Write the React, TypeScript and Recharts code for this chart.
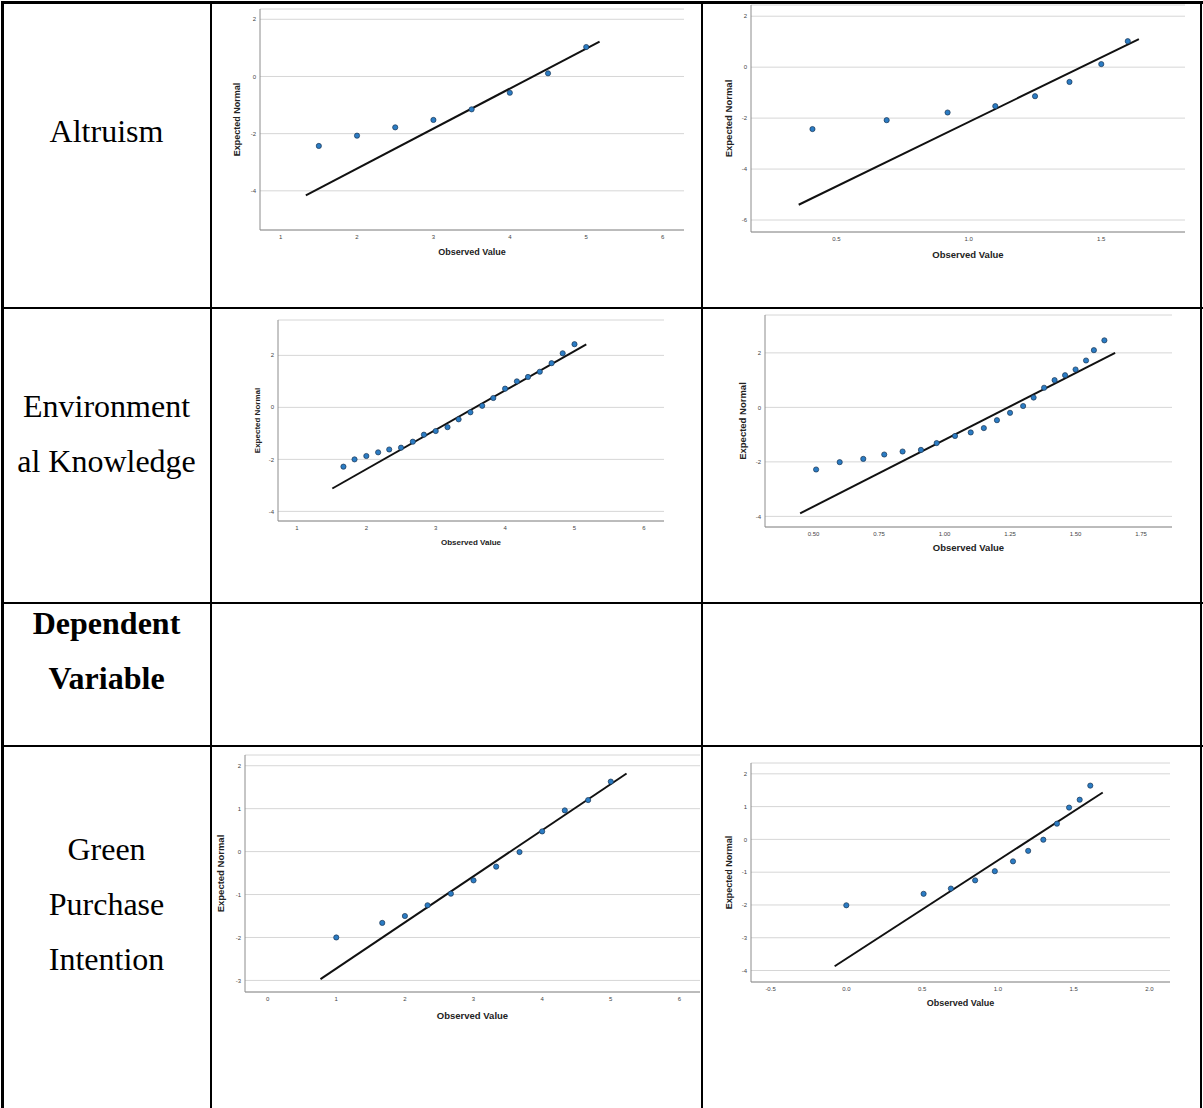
import { ScatterChart, Scatter, XAxis, YAxis, CartesianGrid, ReferenceLine } from "recharts";

// Altruism (raw)
const altObserved = [1.5, 2, 2.5, 3, 3.5, 4, 4.5, 5];
const altExpected = [-2.43, -2.07, -1.78, -1.52, -1.15, -0.57, 0.11, 1.03];
const altLineX = [1.33, 5.175];
const altLineY = [-4.16, 1.22];
const altXTicks = [1, 2, 3, 4, 5, 6];
const altYTicks = [2, 0, -2, -4];

// Altruism (log)
const altLogObserved = [0.41, 0.69, 0.92, 1.1, 1.25, 1.38, 1.5, 1.6];
const altLogExpected = [-2.43, -2.08, -1.78, -1.53, -1.14, -0.58, 0.12, 1.02];
const altLogLineX = [0.358, 1.642];
const altLogLineY = [-5.4, 1.1];
const altLogXTicks = [0.5, 1.0, 1.5];
const altLogYTicks = [2, 0, -2, -4, -6];

// Environmental Knowledge (raw)
const envObserved = [1.67, 1.83, 2.0, 2.17, 2.33, 2.5, 2.67, 2.83, 3.0, 3.17, 3.33, 3.5, 3.67, 3.83, 4.0, 4.17, 4.33, 4.5, 4.67, 4.83, 5.0];
const envExpected = [-2.28, -2.0, -1.87, -1.73, -1.62, -1.55, -1.32, -1.05, -0.91, -0.76, -0.46, -0.19, 0.06, 0.36, 0.72, 1.0, 1.17, 1.37, 1.7, 2.08, 2.43];
const envLineX = [1.51, 5.17];
const envLineY = [-3.12, 2.42];
const envXTicks = [1, 2, 3, 4, 5, 6];
const envYTicks = [2, 0, -2, -4];

// Environmental Knowledge (log)
const envLogObserved = [0.51, 0.6, 0.69, 0.77, 0.84, 0.91, 0.97, 1.04, 1.1, 1.15, 1.2, 1.25, 1.3, 1.34, 1.38, 1.42, 1.46, 1.5, 1.54, 1.57, 1.61];
const envLogExpected = [-2.28, -2.01, -1.89, -1.73, -1.62, -1.56, -1.31, -1.05, -0.92, -0.76, -0.47, -0.2, 0.05, 0.36, 0.72, 1.0, 1.18, 1.39, 1.72, 2.1, 2.46];
const envLogLineX = [0.449, 1.651];
const envLogLineY = [-3.89, 2.0];
const envLogXTicks = [0.5, 0.75, 1.0, 1.25, 1.5, 1.75];
const envLogYTicks = [2, 0, -2, -4];

// Green Purchase Intention (raw)
const gpiObserved = [1, 1.67, 2, 2.33, 2.67, 3, 3.33, 3.67, 4, 4.33, 4.67, 5];
const gpiExpected = [-2.0, -1.66, -1.5, -1.25, -0.98, -0.67, -0.35, -0.01, 0.47, 0.96, 1.2, 1.63];
const gpiLineX = [0.77, 5.23];
const gpiLineY = [-2.97, 1.82];
const gpiXTicks = [0, 1, 2, 3, 4, 5, 6];
const gpiYTicks = [2, 1, 0, -1, -2, -3];

// Green Purchase Intention (log)
const gpiLogObserved = [0, 0.51, 0.69, 0.85, 0.98, 1.1, 1.2, 1.3, 1.39, 1.47, 1.54, 1.61];
const gpiLogExpected = [-2.01, -1.66, -1.5, -1.25, -0.97, -0.67, -0.35, -0.01, 0.48, 0.97, 1.21, 1.64];
const gpiLogLineX = [-0.077, 1.692];
const gpiLogLineY = [-3.87, 1.43];
const gpiLogXTicks = [-0.5, 0.0, 0.5, 1.0, 1.5, 2.0];
const gpiLogYTicks = [2, 1, 0, -1, -2, -3, -4];

const SANS = "'Liberation Sans', Arial, sans-serif";
const SERIF = "'Liberation Serif', 'Times New Roman', serif";
const PAD_L = 40;
const PAD_T = 8;
const PAD_R = 12;
const X_H = 35;

type QQProps = {
  observed: number[];
  expected: number[];
  lineX: number[];
  lineY: number[];
  xTicks: number[];
  yTicks: number[];
  xDomain: [number, number];
  yDomain: [number, number];
  xDecimals: number;
  plot: { left: number; top: number; right: number; bottom: number };
  yLabelX: number;
  xLabelY: number;
  labelSize: number;
};

function QQPlot(p: QQProps) {
  const data = p.observed.map((x, i) => ({ x, y: p.expected[i] }));
  const w = p.plot.right - p.plot.left + PAD_L + PAD_R;
  const h = p.plot.bottom - p.plot.top + PAD_T + X_H;
  const tickStyle = { fontFamily: SANS, fontSize: 6, fill: "#444" };
  const labelStyle = { fontFamily: SANS, fontSize: p.labelSize, fontWeight: 700, fill: "#222" };
  return (
    <div style={{ position: "absolute", left: p.plot.left - PAD_L, top: p.plot.top - PAD_T }}>
      <ScatterChart width={w} height={h} margin={{ top: PAD_T, right: PAD_R, bottom: 0, left: 0 }}>
        <CartesianGrid vertical={false} stroke="#d6d6d6" strokeWidth={1} />
        <XAxis
          type="number"
          dataKey="x"
          domain={p.xDomain}
          ticks={p.xTicks}
          allowDataOverflow
          height={X_H}
          tickLine={false}
          tickSize={2}
          tickMargin={3}
          stroke="#8c8c8c"
          tick={tickStyle}
          tickFormatter={(v: number) => v.toFixed(p.xDecimals)}
          label={{
            value: "Observed Value",
            position: "insideBottom",
            offset: X_H - (p.xLabelY - p.plot.bottom) - p.labelSize * 0.36,
            style: labelStyle,
          }}
        />
        <YAxis
          type="number"
          dataKey="y"
          domain={p.yDomain}
          ticks={p.yTicks}
          allowDataOverflow
          width={PAD_L}
          tickLine={false}
          tickSize={2}
          tickMargin={2}
          stroke="#8c8c8c"
          tick={tickStyle}
          label={{
            value: "Expected Normal",
            angle: -90,
            position: "insideLeft",
            offset: PAD_L - (p.plot.left - p.yLabelX),
            style: { ...labelStyle, textAnchor: "middle" },
          }}
        />
        <ReferenceLine
          segment={[
            { x: p.lineX[0], y: p.lineY[0] },
            { x: p.lineX[1], y: p.lineY[1] },
          ]}
          stroke="#111"
          strokeWidth={2}
          ifOverflow="visible"
        />
        <Scatter
          data={data}
          isAnimationActive={false}
          shape={(s: any) => <circle cx={s.cx} cy={s.cy} r={2.6} fill="#2b7cc4" stroke="#1b3552" strokeWidth={0.7} />}
        />
      </ScatterChart>
    </div>
  );
}

function CellText({ lines, top, bold }: { lines: string[]; top: number; bold?: boolean }) {
  return (
    <div
      style={{
        position: "absolute",
        left: 3,
        width: 207,
        top,
        textAlign: "center",
        fontFamily: SERIF,
        fontSize: 32,
        lineHeight: "55px",
        fontWeight: bold ? 700 : 400,
        color: "#000",
      }}
    >
      {lines.map((l) => (
        <div key={l}>{l}</div>
      ))}
    </div>
  );
}

const line = (left: number, top: number, width: number, height: number) => (
  <div style={{ position: "absolute", left, top, width, height, background: "#000" }} />
);

export default function App() {
  return (
    <div style={{ position: "absolute", left: 0, top: 0, width: 1203, height: 1108, background: "#fff", overflow: "hidden" }}>
      <CellText lines={["Altruism"]} top={103.5} />
      <CellText lines={["Environment", "al Knowledge"]} top={378.5} />
      <CellText lines={["Dependent", "Variable"]} top={596} bold />
      <CellText lines={["Green", "Purchase", "Intention"]} top={821.5} />

      <QQPlot
        observed={altObserved} expected={altExpected} lineX={altLineX} lineY={altLineY}
        xTicks={altXTicks} yTicks={altYTicks} xDomain={[0.73, 6.28]} yDomain={[-5.37, 2.36]} xDecimals={0}
        plot={{ left: 260, top: 9, right: 684, bottom: 230 }} yLabelX={237} xLabelY={252} labelSize={9}
      />
      <QQPlot
        observed={altLogObserved} expected={altLogExpected} lineX={altLogLineX} lineY={altLogLineY}
        xTicks={altLogXTicks} yTicks={altLogYTicks} xDomain={[0.178, 1.816]} yDomain={[-6.47, 2.44]} xDecimals={1}
        plot={{ left: 751, top: 5, right: 1185, bottom: 232 }} yLabelX={729} xLabelY={255} labelSize={9.5}
      />
      <QQPlot
        observed={envObserved} expected={envExpected} lineX={envLineX} lineY={envLineY}
        xTicks={envXTicks} yTicks={envYTicks} xDomain={[0.727, 6.29]} yDomain={[-4.37, 3.36]} xDecimals={0}
        plot={{ left: 278, top: 320, right: 664, bottom: 521 }} yLabelX={257} xLabelY={542} labelSize={8}
      />
      <QQPlot
        observed={envLogObserved} expected={envLogExpected} lineX={envLogLineX} lineY={envLogLineY}
        xTicks={envLogXTicks} yTicks={envLogYTicks} xDomain={[0.315, 1.868]} yDomain={[-4.39, 3.39]} xDecimals={2}
        plot={{ left: 765, top: 315, right: 1172, bottom: 527 }} yLabelX={743} xLabelY={548} labelSize={9.5}
      />
      <QQPlot
        observed={gpiObserved} expected={gpiExpected} lineX={gpiLineX} lineY={gpiLineY}
        xTicks={gpiXTicks} yTicks={gpiYTicks} xDomain={[-0.33, 6.3]} yDomain={[-3.27, 2.25]} xDecimals={0}
        plot={{ left: 245, top: 755, right: 700, bottom: 992 }} yLabelX={221} xLabelY={1016} labelSize={9.5}
      />
      <QQPlot
        observed={gpiLogObserved} expected={gpiLogExpected} lineX={gpiLogLineX} lineY={gpiLogLineY}
        xTicks={gpiLogXTicks} yTicks={gpiLogYTicks} xDomain={[-0.629, 2.136]} yDomain={[-4.35, 2.33]} xDecimals={1}
        plot={{ left: 751, top: 763, right: 1170, bottom: 982 }} yLabelX={729} xLabelY={1003} labelSize={9}
      />

      {line(1, 1, 1202, 2.5)}
      {line(1, 1, 2.5, 1107)}
      {line(210, 1, 2.3, 1107)}
      {line(701, 1, 2.1, 1107)}
      {line(1200, 1, 2.3, 1107)}
      {line(1, 306.7, 1202, 2.3)}
      {line(1, 602, 1202, 2.2)}
      {line(1, 744.6, 1202, 2.2)}
    </div>
  );
}
